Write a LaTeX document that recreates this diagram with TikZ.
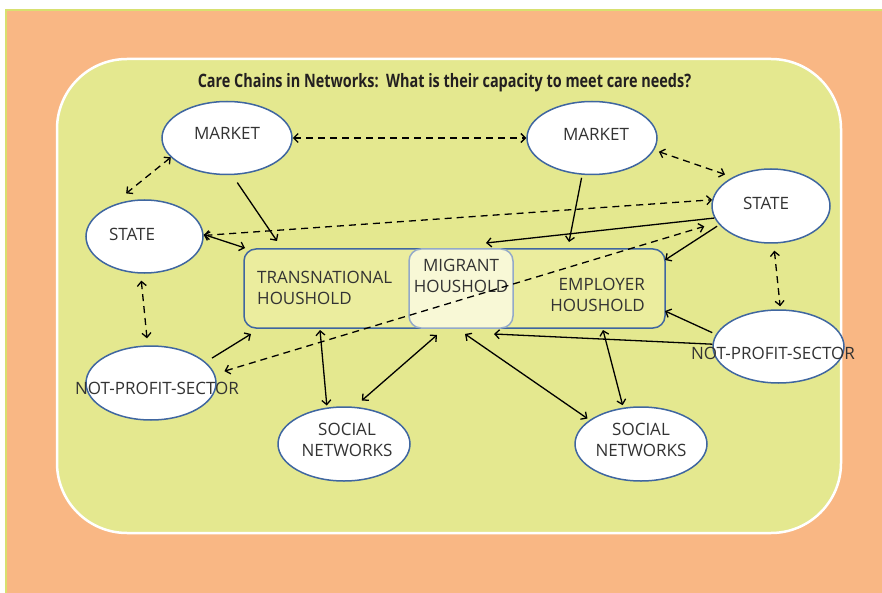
\documentclass[tikz,border=0pt]{standalone}
\usepackage{fontspec}
\setmainfont{Open Sans}
\newfontfamily\titlefont[FakeStretch=0.78]{Open Sans}
\usetikzlibrary{shapes.geometric,arrows.meta,positioning}
\definecolor{bgorange}{HTML}{F9B784}
\definecolor{framegreen}{HTML}{D8E070}
\definecolor{innergreen}{HTML}{E4E88F}
\definecolor{hhfill}{HTML}{EBED9E}
\definecolor{migfill}{HTML}{F8F8D6}
\definecolor{boxblue}{HTML}{3F66A0}
\definecolor{migblue}{HTML}{93A9C9}
\definecolor{txtcol}{HTML}{333333}
\definecolor{titlecol}{HTML}{231F20}

\begin{document}
\begin{tikzpicture}[x=1pt,y=-1pt,>={Straight Barb[length=4.5pt,width=9pt]},
  ell/.style={ellipse, draw=boxblue, line width=1.5pt, fill=white, inner sep=0pt},
  hhbox/.style={draw=boxblue, line width=1.5pt, fill=hhfill, rounded corners=12pt, inner sep=0pt},
  lbl/.style={text=txtcol, font=\fontsize{17}{21}\selectfont, inner sep=0pt, align=center},
  conn/.style={line width=1.3pt, <->},
  dconn/.style={conn, dash pattern=on 7pt off 5pt}]
\useasboundingbox (0,0) rectangle (882,593);
% background
\fill[white] (0,0) rectangle (882,593);
\fill[bgorange] (6,10) rectangle (882,593);
\draw[framegreen, line width=1.5pt] (6,593) -- (6,10) -- (882,10);
\draw[white, line width=2.5pt, fill=innergreen, rounded corners=70pt] (57,59) rectangle (841,533);
\node[font=\titlefont\bfseries\fontsize{18.5}{22}\selectfont, text=titlecol, anchor=base] (title) at (444.5,87.5)
  {Care Chains in Networks:\ \ What is their capacity to meet care needs?};

% households
\node[hhbox, minimum width=421pt, minimum height=79pt] (hh) at (454.5,288.5) {};
\node[hhbox, draw=migblue, fill=migfill, minimum width=104pt, minimum height=79pt] (mig) at (461,288.5) {};
\node[lbl, anchor=west, align=left] (transtxt) at (257,288) {TRANSNATIONAL\\HOUSHOLD};
\node[lbl] (migtxt) at (461,276) {MIGRANT\\HOUSHOLD};
\node[lbl, anchor=east, align=right] (emptxt) at (645,295) {EMPLOYER\\HOUSHOLD};

% actors
\node[ell, minimum width=130pt, minimum height=73pt] (mktL) at (227,138) {};
\node[ell, minimum width=130pt, minimum height=73pt] (mktR) at (592,138) {};
\node[ell, minimum width=117pt, minimum height=73pt] (stateL) at (144.5,236.5) {};
\node[ell, minimum width=118pt, minimum height=74pt] (stateR) at (771,206) {};
\node[ell, minimum width=130pt, minimum height=74pt] (nptL) at (151,383) {};
\node[ell, minimum width=131pt, minimum height=73pt] (nptR) at (778.5,346.5) {};
\node[ell, minimum width=132pt, minimum height=74pt] (socL) at (344,444) {};
\node[ell, minimum width=132pt, minimum height=74pt] (socR) at (641,444) {};
\node[lbl] (mktLtxt) at (227,133) {MARKET};
\node[lbl] (mktRtxt) at (596,134) {MARKET};
\node[lbl] (stateLtxt) at (132,234) {STATE};
\node[lbl] (stateRtxt) at (766,203) {STATE};
\node[lbl] (nptLtxt) at (157,388) {NOT-PROFIT-SECTOR};
\node[lbl] (nptRtxt) at (773,353) {NOT-PROFIT-SECTOR};
\node[lbl] (socLtxt) at (347,439.5) {SOCIAL\\NETWORKS};
\node[lbl] (socRtxt) at (641,439.5) {SOCIAL\\NETWORKS};

% ends on the household box
\coordinate (hhA) at (277,241);
\coordinate (hhB) at (245,248);
\coordinate (hhC) at (251,334);
\coordinate (hhD) at (569,242);
\coordinate (hhE) at (486,243);
\coordinate (hhF) at (665,260);
\coordinate (hhG) at (665,311);
\coordinate (hhH) at (494,334);
\coordinate (hhI) at (320,330);
\coordinate (hhJ) at (437,335);
\coordinate (hhK) at (465,334);
\coordinate (hhL) at (603,330);

% links
\draw[dconn] (mktL.east) -- (mktR.west);
\draw[dconn, shorten >=20pt] (mktL.199) -- (stateL.138);
\draw[conn, ->, shorten <=9pt] (mktL.-82) -- (hhA);
\draw[conn] (stateL.2) -- (hhB);
\draw[dconn] (stateL.1) -- (stateR.174);
\draw[dconn, shorten <=7pt, shorten >=7pt] (stateL.-96) -- (nptL.95);
\draw[conn, ->, shorten <=7.5pt] (nptL.21) -- (hhC);
\draw[dconn, shorten <=10pt, shorten >=13.5pt] (nptL.8) -- (stateR.197);
\draw[conn, ->, shorten <=3pt] (mktR.-105) -- (hhD);
\draw[dconn, shorten <=5pt, shorten >=8pt] (mktR.-11) -- (stateR.143);
\draw[conn, ->] (stateR.192) -- (hhE);
\draw[conn, ->, shorten <=2.5pt] (stateR.200) -- (hhF);
\draw[dconn, shorten <=7pt, shorten >=3pt] (stateR.-86) -- (nptR.87);
\draw[conn, ->, shorten <=4pt] (nptR.169) -- (hhG);
\draw[conn, ->] (nptR.178) -- (hhH);
\draw[conn, shorten >=2pt] (hhI) -- (socL.115);
\draw[conn, shorten >=9.5pt] (hhJ) -- (socL.74);
\draw[conn, shorten >=2.5pt] (hhK) -- (socR.155);
\draw[conn, shorten >=2.5pt] (hhL) -- (socR.116);
\end{tikzpicture}
\end{document}
